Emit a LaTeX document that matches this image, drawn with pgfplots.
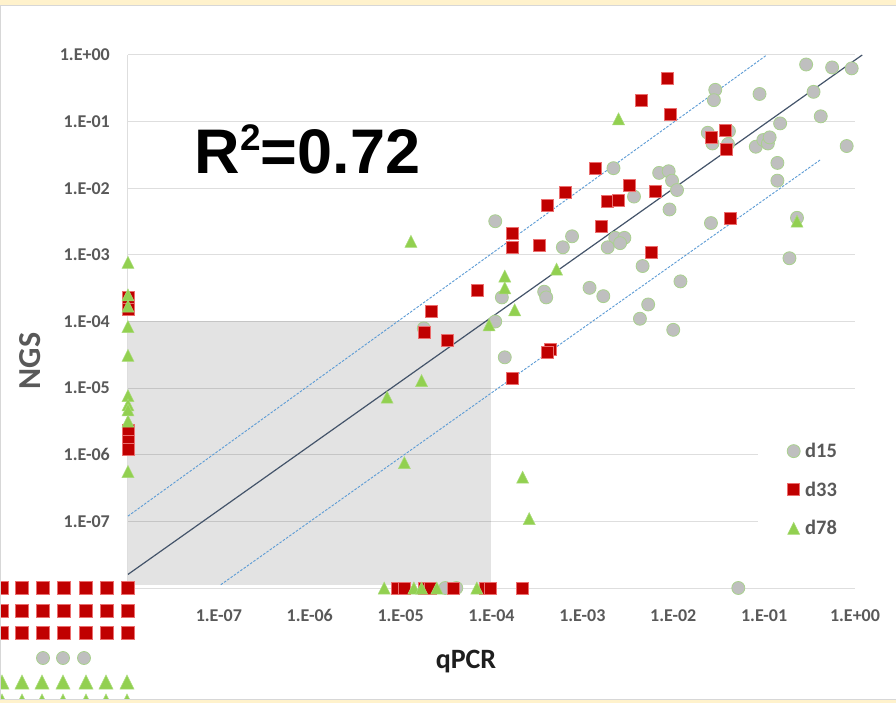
\documentclass[border=0pt]{standalone}
\usepackage{pgfplots}
\pgfplotsset{compat=1.18}
\usepackage{fontspec}
\setmainfont{Carlito}
\newfontfamily\arialfont{Liberation Sans}
\definecolor{gridgray}{RGB}{222,222,222}
\definecolor{tickgray}{RGB}{89,89,89}
\definecolor{qcol}{RGB}{30,30,30}
\definecolor{c15}{RGB}{191,191,191}
\definecolor{c15e}{RGB}{169,209,142}
\definecolor{c33}{RGB}{192,0,0}
\definecolor{c33e}{RGB}{235,110,110}
\definecolor{c78}{RGB}{146,208,80}
\definecolor{c78e}{RGB}{169,219,120}
\definecolor{navy}{RGB}{68,84,106}
\definecolor{ltblue}{RGB}{91,155,213}
\definecolor{bandy}{RGB}{255,242,204}
\definecolor{bordergray}{RGB}{215,215,215}
\pgfdeclareplotmark{xtri}{%
  \pgfpathmoveto{\pgfqpoint{0pt}{\pgfplotmarksize}}%
  \pgfpathlineto{\pgfqpoint{\pgfplotmarksize}{-\pgfplotmarksize}}%
  \pgfpathlineto{\pgfqpoint{-\pgfplotmarksize}{-\pgfplotmarksize}}%
  \pgfpathclose\pgfusepathqfillstroke}
\pgfplotsset{
  s15/.style={only marks, mark=*, mark size=6.5pt, mark options={fill=c15, draw=c15e, line width=0.8pt}},
  s33/.style={only marks, mark=square*, mark size=6pt, mark options={fill=c33, draw=c33e, line width=0.6pt}},
  s78/.style={only marks, mark=xtri, mark size=6pt, mark options={fill=c78, draw=c78e, line width=0.5pt}},
}
\begin{document}
\begin{tikzpicture}[x=1pt,y=1pt]
\path[use as bounding box] (0,0) rectangle (896,703);
\fill[white] (0,0) rectangle (896,703);
\begin{axis}[
  at={(128pt,115pt)}, anchor=south west,
  scale only axis, width=727pt, height=533pt,
  xmode=log, ymode=log,
  xmin=1e-8, xmax=1, ymin=1e-8, ymax=1,
  xtick={1e-8,1e-7,1e-6,1e-5,1e-4,1e-3,1e-2,1e-1,1},
  xticklabels={,1.E-07,1.E-06,1.E-05,1.E-04,1.E-03,1.E-02,1.E-01,1.E+00},
  ytick={1e-8,1e-7,1e-6,1e-5,1e-4,1e-3,1e-2,1e-1,1},
  yticklabels={,1.E-07,1.E-06,1.E-05,1.E-04,1.E-03,1.E-02,1.E-01,1.E+00},
  minor tick num=0,
  tick style={draw=none}, major tick length=0pt,
  ymajorgrids, grid style={gridgray, line width=1pt},
  axis lines*=left, axis line style={gridgray, line width=1pt},
  clip=false,
  ticklabel style={font=\fontsize{18}{18}\selectfont\bfseries, text=tickgray},
  xticklabel style={anchor=north, inner sep=0pt, yshift=-21.5pt},
  yticklabel style={anchor=east, inner sep=0pt, xshift=-18pt},
  legend cell align=left,
  legend image code/.code={\draw[#1] plot coordinates {(0pt,0pt)};},
  legend style={at={(0.86657,0.29081)}, anchor=north west, draw=none, fill=white,
    inner xsep=29pt, inner ysep=10pt, row sep=22.7pt, column sep=5pt,
    font=\fontsize{20.5}{20.5}\selectfont\bfseries, text=tickgray,
    nodes={inner sep=0pt}},
]
\fill[black, fill opacity=0.11] (axis cs:1e-8,1.12e-8) rectangle (axis cs:1e-4,1e-4);
\addplot[navy, line width=1.2pt, forget plot] coordinates {(1e-8,1.6e-8) (1.2,1)};
\addplot[ltblue, line width=0.9pt, dash pattern=on 2.5pt off 1.5pt, forget plot] coordinates {(1e-8,1.2e-7) (0.107,1)};
\addplot[ltblue, line width=0.9pt, dash pattern=on 2.5pt off 1.5pt, forget plot] coordinates {(1.05e-7,1.12e-8) (0.414,0.0266)};
% d15
\addplot[s15] coordinates {
(2.9e-1,7.2e-1) (5.6e-1,6.5e-1) (9.2e-1,6.3e-1) (2.9e-2,3.0e-1) (2.8e-2,2.1e-1)
(8.9e-2,2.6e-1) (3.5e-1,2.8e-1) (4.2e-1,1.2e-1) (1.5e-1,9.4e-2) (2.4e-2,6.8e-2)
(2.7e-2,4.7e-2) (4.1e-2,7.2e-2) (4.0e-2,4.6e-2) (8.1e-2,4.2e-2) (9.8e-2,5.3e-2)
(1.1e-1,4.7e-2) (1.15e-1,5.8e-2) (8.1e-1,4.3e-2) (1.4e-1,2.4e-2) (1.4e-1,1.3e-2)
(2.2e-3,2.0e-2) (7.0e-3,1.7e-2) (8.9e-3,1.8e-2) (9.7e-3,1.3e-2) (1.1e-2,9.4e-3)
(3.7e-3,7.5e-3) (9.1e-3,4.8e-3) (2.6e-2,3.0e-3) (2.3e-1,3.6e-3) (1.9e-1,8.9e-4)
(1.1e-4,3.2e-3) (7.7e-4,1.9e-3) (6.1e-4,1.3e-3) (2.3e-3,1.8e-3) (2.9e-3,1.8e-3)
(1.9e-3,1.3e-3) (2.6e-3,1.5e-3) (4.6e-3,6.8e-4) (1.2e-2,4.0e-4) (1.2e-3,3.2e-4)
(1.7e-3,2.4e-4) (3.8e-4,2.8e-4) (4.0e-4,2.3e-4) (1.3e-4,2.3e-4) (5.3e-3,1.8e-4)
(4.3e-3,1.1e-4) (1.0e-2,7.5e-5) (1.1e-4,1.0e-4) (1.8e-5,7.9e-5) (1.4e-4,2.9e-5)
(3.1e-5,1e-8) (4.1e-5,1e-8) (5.2e-2,1e-8)
};
\addlegendentry{d15}
% d33
\addplot[s33] coordinates {
(8.5e-3,4.5e-1) (4.4e-3,2.1e-1) (9.2e-3,1.3e-1) (3.7e-2,7.5e-2) (2.6e-2,5.8e-2)
(3.8e-2,3.8e-2) (1.4e-3,2.0e-2) (3.3e-3,1.1e-2) (6.4e-3,8.9e-3) (6.5e-4,8.6e-3)
(1.9e-3,6.3e-3) (2.5e-3,6.5e-3) (4.1e-4,5.6e-3) (1.6e-3,2.7e-3) (4.2e-2,3.5e-3)
(1.7e-4,2.1e-3) (1.7e-4,1.3e-3) (3.4e-4,1.4e-3) (5.8e-3,1.1e-3) (7.0e-5,2.9e-4)
(2.2e-5,1.4e-4) (1.8e-5,6.8e-5) (3.3e-5,5.3e-5) (4.4e-4,3.8e-5) (4.1e-4,3.4e-5)
(1.7e-4,1.4e-5)
(9.1e-6,1e-8) (1.1e-5,1e-8) (1.8e-5,1e-8) (2.1e-5,1e-8) (3.8e-5,1e-8)
(8.5e-5,1e-8) (9.6e-5,1e-8) (2.2e-4,1e-8)
(1e-8,2.3e-4) (1e-8,1.5e-4) (1e-8,2.3e-6) (1e-8,1.6e-6) (1e-8,1.2e-6)
};
\addlegendentry{d33}
% d78
\addplot[s78] coordinates {
(2.5e-3,1.1e-1) (1.3e-5,1.6e-3) (2.3e-1,3.2e-3) (1.4e-4,4.8e-4) (1.4e-4,3.2e-4)
(5.2e-4,6.1e-4) (1.8e-4,1.5e-4) (9.4e-5,8.9e-5) (1.7e-5,1.3e-5) (7.1e-6,7.3e-6)
(1.1e-5,7.6e-7) (2.2e-4,4.6e-7) (2.6e-4,1.1e-7)
(6.6e-6,1e-8) (1.4e-5,1e-8) (1.7e-5,1e-8) (2.5e-5,1e-8) (6.9e-5,1e-8)
(1e-8,7.7e-4) (1e-8,2.5e-4) (1e-8,1.7e-4) (1e-8,8.4e-5) (1e-8,3.1e-5)
(1e-8,7.7e-6) (1e-8,5.6e-6) (1e-8,4.7e-6) (1e-8,3.2e-6) (1e-8,5.6e-7)
};
\addlegendentry{d78}
\end{axis}
% stray markers outside the plot (bottom left)
\begin{axis}[at={(0pt,0pt)}, anchor=south west, scale only axis, width=896pt, height=703pt,
  xmin=0, xmax=896, ymin=0, ymax=703, y dir=reverse, hide axis, clip=true]
\addplot[s33, mark size=6.5pt] coordinates {
(2,588) (22,588) (43,588) (64,588) (86,588) (107,588) (128,588)
(2,611) (22,611) (43,611) (64,611) (86,611) (107,611) (128,611)
(2,633) (22,633) (43,633) (64,633) (86,633) (107,633) (128,633)
};
\addplot[s15] coordinates {(43,658) (63,658) (84,658)};
\addplot[s78, mark size=7pt] coordinates {
(2,682) (22,682) (42,682) (63,682) (86,682) (106,682) (127,682)
(2,701) (22,701) (42,701) (63,701) (86,701) (106,701) (127,701)
};
\end{axis}
% labels
\node[anchor=base, inner sep=0pt, font=\fontsize{28}{28}\selectfont\bfseries, text=qcol] at (466,34.7) {qPCR};
\node[rotate=90, anchor=base, inner sep=0pt, font=\fontsize{32}{32}\selectfont\bfseries, text=tickgray] at (40,342) {NGS};
\node[anchor=base west, inner sep=0pt, font=\arialfont\bfseries\fontsize{63}{63}\selectfont] at (194.5,529) {R\raisebox{23pt}{\fontsize{37}{37}\selectfont 2}=0.72};
% frame
\fill[bandy] (0,698) rectangle (896,703);
\draw[bordergray, line width=0.8pt] (0,697.6) -- (896,697.6);
\fill[bandy] (0,0) rectangle (896,3);
\draw[bordergray, line width=0.8pt] (0,3.4) -- (896,3.4);
\draw[bordergray, line width=1pt] (0.5,3.4) -- (0.5,697.6);
\end{tikzpicture}
\end{document}
